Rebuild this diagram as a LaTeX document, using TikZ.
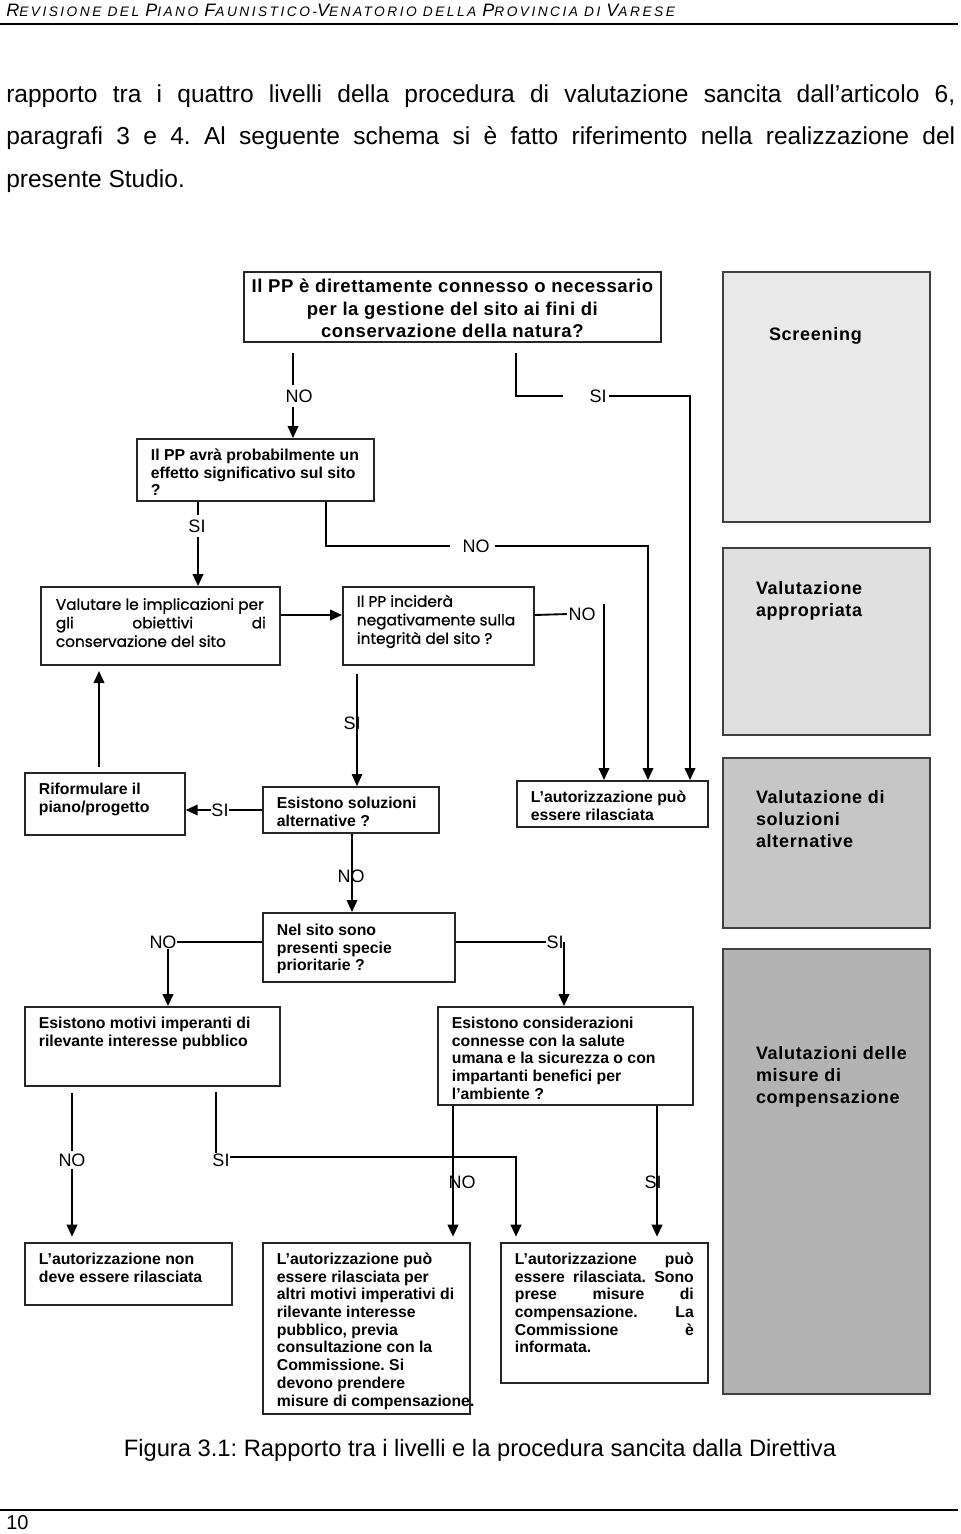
\documentclass[tikz,border=0pt]{standalone}
\usepackage{fontspec}
\setmainfont{Liberation Sans}
\newfontfamily\cgfont[FakeBold=0.8]{Poppins}
\newfontfamily\hdfont[LetterSpace=18]{Liberation Sans}
\newfontfamily\grfont[LetterSpace=4]{Liberation Sans}
\newfontfamily\bfont[LetterSpace=3]{Liberation Sans}
\usetikzlibrary{arrows.meta,calc}
\frenchspacing
\newdimen\PX \PX=0.75pt
\definecolor{gA}{HTML}{E9E9E9}
\definecolor{gB}{HTML}{E0E0E0}
\definecolor{gC}{HTML}{C6C6C6}
\definecolor{gD}{HTML}{B3B3B3}
\newcommand{\bt}[5]{\parbox[c][#2\PX][t]{#1\PX}{\vspace*{#3\PX}\leftskip=#4\PX\relax\rightskip=0pt plus 1fil\relax\parfillskip=0pt plus 1fil\relax\strut #5}}
\newcommand{\hsc}[2]{{\fontsize{13.5}{14}\selectfont #1}{\fontsize{10.3}{11}\selectfont #2}}
\tikzset{
 ln/.style={line width=1.4pt},
 arr/.style={line width=1.4pt, -{Triangle[width=8pt,length=9pt]}},
 lab/.style={inner sep=0pt, font=\fontsize{13.5}{16}\selectfont},
 qbox/.style={draw=black!85, line width=1.3pt, inner sep=0pt, anchor=north west, fill=white, font=\bfseries\fontsize{11.85}{13.3}\selectfont},
 cbox/.style={qbox, font=\cgfont\fontsize{11.5}{13.9}\selectfont},
 gbox/.style={draw=black!75, line width=1.5pt, inner sep=0pt, anchor=north west, font=\grfont\bfseries\fontsize{13.5}{16.5}\selectfont},
}
\begin{document}
\begin{tikzpicture}[x=0.75pt, y=-0.75pt]
\useasboundingbox (0,0) rectangle (960,1534);
% header
\node[anchor=base west, inner sep=0, font=\hdfont\itshape] (hdr) at (6,17) {\hsc{R}{EVISIONE} \hsc{}{DEL} \hsc{P}{IANO} \hsc{F}{AUNISTICO-}\hsc{V}{ENATORIO} \hsc{}{DELLA} \hsc{P}{ROVINCIA} \hsc{}{DI} \hsc{V}{ARESE}};
\draw[line width=1.1pt] (0,24) -- (958,24);
% body
\node[anchor=base west, inner sep=0, font=\fontsize{18.4}{22}\selectfont] (p1) at (6,103) {\makebox[949\PX][s]{rapporto tra i quattro livelli della procedura di valutazione sancita dall’articolo 6,}};
\node[anchor=base west, inner sep=0, font=\fontsize{18.4}{22}\selectfont] (p2) at (6,145) {\makebox[949\PX][s]{paragrafi 3 e 4. Al seguente schema si è fatto riferimento nella realizzazione del}};
\node[anchor=base west, inner sep=0, font=\fontsize{18.4}{22}\selectfont] (p3) at (6,187) {presente Studio.};

% gray phase boxes
\node[gbox, fill=gA] (g1) at (722,271) {\bt{207}{250}{53}{46}{Screening}};
\node[gbox, fill=gB] (g2) at (722,547) {\bt{207}{187}{31}{33}{Valutazione\\appropriata}};
\node[gbox, fill=gC] (g3) at (722,757) {\bt{207}{170}{30}{33}{Valutazione di\\soluzioni\\alternative}};
\node[gbox, fill=gD] (g4) at (722,948) {\bt{207}{445}{95}{33}{Valutazioni delle\\misure di\\compensazione}};

% flow boxes
\node[qbox, font=\bfont\bfseries\fontsize{13.9}{16.9}\selectfont] (b1) at (243,271) {\parbox[c][70\PX][t]{417\PX}{\centering\vspace*{5\PX}\strut Il PP è direttamente connesso o necessario\\ per la gestione del sito ai fini di\\ conservazione della natura?}};
\node[qbox] (b2) at (136,438) {\bt{237}{62}{9}{14}{Il PP avrà probabilmente un\\effetto significativo sul sito\\?}};
\node[cbox] (b3) at (40,586) {\bt{239}{78}{10}{15}{\mbox{Valutare le implicazioni per}\\\makebox[210\PX][s]{gli obiettivi di}\\conservazione del sito}};
\node[cbox] (b4) at (342,586) {\bt{191}{78}{7}{14}{Il PP inciderà\\negativamente sulla\\integrità del sito ?}};
\node[qbox] (rif) at (24,772) {\bt{160}{62}{9}{14}{Riformulare il\\piano/progetto}};
\node[qbox] (b5) at (262,786) {\bt{176}{46}{9}{14}{Esistono soluzioni\\alternative ?}};
\node[qbox] (aut) at (516,780) {\bt{191}{46}{9}{14}{L’autorizzazione può\\essere rilasciata}};
\node[qbox] (b6) at (262,912) {\bt{192}{69}{10}{14}{Nel sito sono\\presenti specie\\prioritarie ?}};
\node[qbox] (b7) at (24,1006) {\bt{255}{79}{9}{14}{Esistono motivi imperanti di\\rilevante interesse pubblico}};
\node[qbox] (b8) at (437,1006) {\bt{255}{98}{9}{14}{Esistono considerazioni\\connesse con la salute\\umana e la sicurezza o con\\impartanti benefici per\\l’ambiente ?}};
\node[qbox] (b9) at (24,1242) {\bt{207}{62}{9}{14}{L’autorizzazione non\\deve essere rilasciata}};
\node[qbox] (b10) at (262,1242) {\bt{207}{171}{9}{14}{L’autorizzazione può\\essere rilasciata per\\\mbox{altri motivi imperativi di}\\rilevante interesse\\pubblico, previa\\consultazione con la\\Commissione. Si\\devono prendere\\\mbox{misure di compensazione.}}};
\node[qbox] (b11) at (500,1242) {\bt{207}{140}{9}{14}{\makebox[179\PX][s]{L’autorizzazione può}\\\makebox[179\PX][s]{essere rilasciata. Sono}\\\makebox[179\PX][s]{prese misure di}\\\makebox[179\PX][s]{compensazione. La}\\\makebox[179\PX][s]{Commissione è}\\informata.}};

% column / row coordinates
\coordinate (xa) at (293,0);
\coordinate (xb) at (516,0);
\coordinate (xc) at (690,0);
\coordinate (xd) at (198,0);
\coordinate (xe) at (326,0);
\coordinate (xf) at (648,0);
\coordinate (xg) at (604,0);
\coordinate (xh) at (99,0);
\coordinate (xi) at (357,0);
\coordinate (xj) at (352,0);
\coordinate (xk) at (168,0);
\coordinate (xl) at (564,0);
\coordinate (xm) at (72,0);
\coordinate (xn) at (216,0);
\coordinate (xo) at (516,0);
\coordinate (xp) at (453,0);
\coordinate (xq) at (657,0);
\coordinate (yf) at (0,615);
\coordinate (yg) at (0,810);
\coordinate (yh) at (0,942);
\coordinate (yi) at (0,1157);
\coordinate (g0) at (604,604);

% labels
\node[lab] (l1) at (299,396) {NO};
\node[lab] (l2) at (598,396) {SI};
\node[lab] (l3) at (197,526) {SI};
\node[lab] (l4) at (476,546) {NO};
\node[lab] (l5) at (582,614) {NO};
\node[lab] (l6) at (352,723) {SI};
\node[lab] (l7) at (220,810) {SI};
\node[lab] (l8) at (351,876) {NO};
\node[lab] (l9) at (163,942) {NO};
\node[lab] (l10) at (555,942) {SI};
\node[lab] (l11) at (72,1160) {NO};
\node[lab] (l12) at (221,1160) {SI};
\node[lab] (l13) at (462,1182) {NO};
\node[lab] (l14) at (653,1182) {SI};

% connectors
\draw[ln, shorten <=8pt, shorten >=3pt] (b1.south -| xa) -- (l1.north -| xa);
\draw[arr, shorten <=3pt] (l1.south -| xa) -- (b2.north -| xa);
\draw[ln, shorten <=8pt, shorten >=20pt] (b1.south -| xb) |- (l2.west);
\draw[arr, shorten <=2pt] (l2.east) -| (aut.north -| xc);
\draw[ln, shorten >=3pt] (b2.south -| xd) -- (l3.north -| xd);
\draw[arr, shorten <=3pt] (l3.south -| xd) -- (b3.north -| xd);
\draw[ln, shorten >=9pt] (b2.south -| xe) |- (l4.west);
\draw[arr, shorten <=4pt] (l4.east) -| (aut.north -| xf);
\draw[arr] (b3.east |- yf) -- (b4.west |- yf);
\draw[ln, shorten >=1pt] (b4.east |- yf) -- (l5.west);
\draw[arr] (g0) -- (aut.north -| xg);
\draw[arr, shorten <=4pt, shorten >=4pt] (rif.north -| xh) -- (b3.south -| xh);
\draw[arr, line width=0.8pt, shorten <=6pt] (b4.south -| xi) -- (b5.north -| xi);
\draw[ln] (b5.west |- yg) -- (l7.east);
\draw[arr] (l7.west) -- (rif.east |- yg);
\draw[arr, line width=1pt] (b5.south -| xj) -- (b6.north -| xj);
\draw[ln] (b6.west |- yh) -- (l9.east);
\draw[arr] (l9.south -| xk) -- (b7.north -| xk);
\draw[ln] (b6.east |- yh) -- (l10.west);
\draw[arr] (l10.center -| xl) -- (b8.north -| xl);
\draw[ln, shorten <=5pt, shorten >=2pt] (b7.south -| xm) -- (l11.north -| xm);
\draw[arr, shorten <=2pt, shorten >=4pt] (l11.south -| xm) -- (b9.north -| xm);
\draw[ln, shorten <=4pt] (b7.south -| xn) -- (l12.north -| xn);
\draw[arr, shorten >=4pt] (l12.east |- yi) -| (b11.north -| xo);
\draw[arr, shorten >=4pt] (b8.south -| xp) -- (b10.north -| xp);
\draw[arr, shorten >=4pt] (b8.south -| xq) -- (b11.north -| xq);

% caption and footer
\node[anchor=base, inner sep=0, font=\fontsize{17.8}{20}\selectfont] (cap) at (480,1456) {Figura 3.1: Rapporto tra i livelli e la procedura sancita dalla Direttiva};
\draw[line width=1.1pt] (0,1510) -- (958,1510);
\node[anchor=base west, inner sep=0, font=\fontsize{15}{18}\selectfont] (pg) at (6,1529) {10};
\end{tikzpicture}
\end{document}
